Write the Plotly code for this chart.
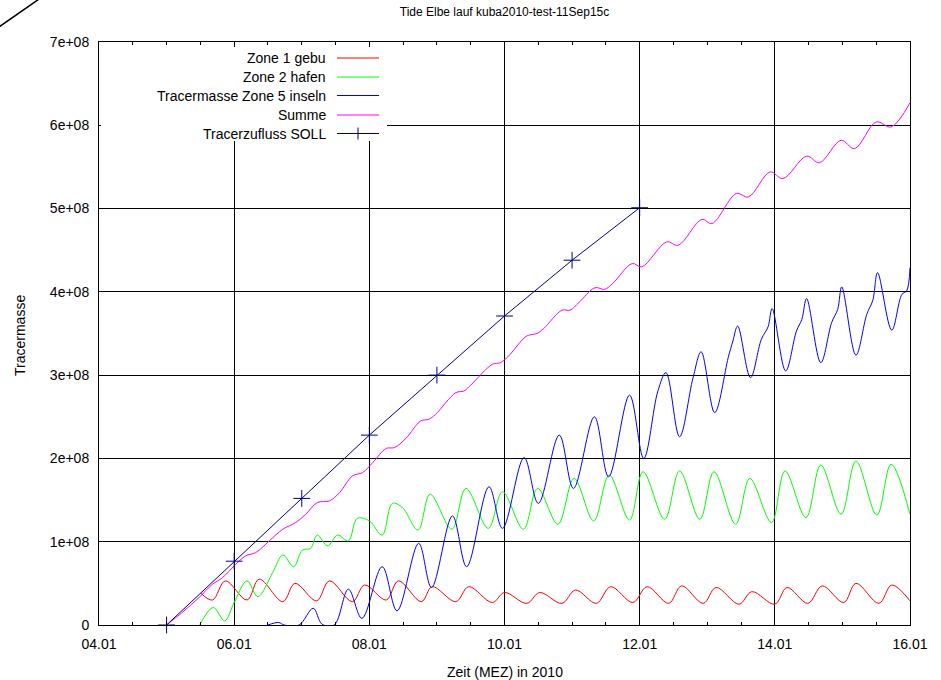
import numpy as np
import pandas as pd
import plotly.graph_objects as go

# Time in days of January 2010, tracer masses in units of 1e8
zone1_day = [5.51, 5.68, 5.87, 6.19, 6.37, 6.72, 6.90, 7.22, 7.41, 7.75, 7.93, 8.25, 8.43, 8.77,
             8.93, 9.28, 9.47, 9.82, 10.00, 10.33, 10.52, 10.85, 11.05, 11.36, 11.57, 11.90,
             12.11, 12.43, 12.62, 12.94, 13.13, 13.47, 13.66, 14.00, 14.18, 14.49, 14.70,
             15.02, 15.20, 15.54, 15.73, 16.00]
zone1_val = [0.38, 0.30, 0.53, 0.30, 0.55, 0.28, 0.50, 0.29, 0.53, 0.28, 0.48, 0.30, 0.53, 0.28,
             0.46, 0.28, 0.46, 0.27, 0.39, 0.26, 0.39, 0.26, 0.42, 0.26, 0.46, 0.27,
             0.46, 0.26, 0.47, 0.26, 0.45, 0.25, 0.40, 0.25, 0.45, 0.26, 0.47,
             0.27, 0.50, 0.26, 0.48, 0.29]

zone2_day = [5.49, 5.69, 5.86, 6.00, 6.19, 6.35, 6.57, 6.72, 6.88, 7.01, 7.13, 7.23, 7.38, 7.53,
             7.69, 7.82, 8.00, 8.19, 8.34, 8.49, 8.72, 8.90, 9.22, 9.43, 9.76, 9.97, 10.28,
             10.49, 10.79, 11.03, 11.32, 11.55, 11.85, 12.05, 12.37, 12.59, 12.89, 13.10,
             13.42, 13.63, 13.95, 14.15, 14.46, 14.68, 14.98, 15.20, 15.51, 15.72, 16.00]
zone2_val = [0.00, 0.21, 0.05, 0.27, 0.53, 0.34, 0.63, 0.84, 0.70, 0.90, 0.92, 1.08, 0.95, 1.08,
             1.01, 1.28, 1.25, 1.08, 1.46, 1.41, 1.14, 1.57, 1.15, 1.64, 1.16, 1.60, 1.15,
             1.64, 1.21, 1.76, 1.25, 1.80, 1.26, 1.84, 1.27, 1.85, 1.27, 1.84,
             1.21, 1.76, 1.23, 1.85, 1.29, 1.92, 1.33, 1.97, 1.32, 1.93, 1.33]

zone5_day = [6.50, 6.66, 6.74, 6.96, 7.17, 7.30, 7.48, 7.69, 7.89, 8.19, 8.41, 8.73, 8.92, 9.23,
             9.44, 9.77, 9.97, 10.29, 10.50, 10.81, 11.02, 11.33, 11.54, 11.85, 12.06, 12.27,
             12.39, 12.59, 12.79, 12.91, 13.11, 13.31, 13.38, 13.45, 13.64, 13.80, 13.90,
             13.96, 14.16, 14.32, 14.40, 14.47, 14.68, 14.84, 14.93, 14.99, 15.20, 15.36,
             15.45, 15.52, 15.73, 15.88, 15.95, 16.00]
zone5_val = [0.00, 0.03, 0.00, 0.00, 0.20, 0.01, 0.00, 0.43, 0.08, 0.70, 0.17, 0.98, 0.45, 1.31,
             0.70, 1.66, 1.16, 2.01, 1.46, 2.28, 1.64, 2.50, 1.78, 2.76, 2.00, 2.81,
             3.03, 2.26, 2.97, 3.28, 2.55, 3.21, 3.41, 3.59, 2.97, 3.43, 3.58,
             3.80, 3.05, 3.53, 3.67, 3.92, 3.15, 3.63, 3.79, 4.06, 3.24, 3.73,
             3.90, 4.23, 3.54, 3.97, 4.01, 4.29]

summe_day = [5.00, 5.23, 5.48, 5.68, 5.83, 6.00, 6.17, 6.32, 6.52, 6.72, 6.91, 7.06, 7.23, 7.41,
             7.56, 7.75, 7.90, 8.05, 8.25, 8.37, 8.54, 8.76, 8.88, 8.98, 9.28, 9.40, 9.50,
             9.82, 9.94, 10.05, 10.33, 10.48, 10.58, 10.85, 10.97, 11.10, 11.34, 11.48, 11.60,
             11.89, 12.03, 12.40, 12.57, 12.92, 13.07, 13.43, 13.61, 13.93, 14.12, 14.47,
             14.66, 14.98, 15.18, 15.50, 15.72, 16.00]
summe_val = [0.00, 0.15, 0.33, 0.49, 0.57, 0.71, 0.83, 0.87, 1.01, 1.15, 1.23, 1.33, 1.47, 1.49,
             1.59, 1.79, 1.83, 1.95, 2.12, 2.13, 2.24, 2.45, 2.47, 2.53, 2.79, 2.81, 2.88,
             3.13, 3.15, 3.22, 3.47, 3.50, 3.56, 3.78, 3.78, 3.87, 4.05, 4.03, 4.10,
             4.34, 4.30, 4.60, 4.56, 4.87, 4.82, 5.18, 5.14, 5.44, 5.36, 5.63,
             5.55, 5.82, 5.72, 6.04, 5.98, 6.27]

soll_day = [5, 6, 7, 8, 9, 10, 11, 12]
soll_val = [0.00, 0.766, 1.52, 2.28, 3.00, 3.71, 4.38, 5.01]

y_tick_vals = [0, 1, 2, 3, 4, 5, 6, 7]
y_tick_text = ["0", "1e+08", "2e+08", "3e+08", "4e+08", "5e+08", "6e+08", "7e+08"]

series_names = ["Zone 1 gebu", "Zone 2 hafen", "Tracermasse Zone 5 inseln", "Summe",
                "Tracerzufluss SOLL"]
series_colors = ["#ff0000", "#00ff00", "#0000ff", "#ff00ff", "#000080"]

SCALE = 1e8
BASE = pd.Timestamp("2010-01-01")


def to_time(days):
    return BASE + pd.to_timedelta(np.asarray(days, dtype=float) - 1.0, unit="D")


FONT = "Liberation Sans, Arial, Helvetica, sans-serif"

fig = go.Figure()
curves = [(zone1_day, zone1_val), (zone2_day, zone2_val), (zone5_day, zone5_val),
          (summe_day, summe_val)]
for (d, v), name, col in zip(curves, series_names[:4], series_colors[:4]):
    fig.add_trace(go.Scatter(
        x=to_time(d), y=np.asarray(v) * SCALE, mode="lines", name=name,
        line=dict(color=col, width=1, shape="spline", smoothing=1.0),
        showlegend=False,
    ))

fig.add_trace(go.Scatter(
    x=to_time(soll_day), y=np.asarray(soll_val) * SCALE, mode="lines+markers",
    name=series_names[4], line=dict(color=series_colors[4], width=1),
    marker=dict(symbol="cross-thin", size=12, line=dict(color=series_colors[4], width=1)),
    cliponaxis=False, showlegend=False,
))

# plot area in pixels: left 99, right 910, top 42, bottom 625
L, R, T, B = 99, 910, 42, 625


def px(xp):
    return (xp - L) / (R - L)


def py(yp):
    return (B - yp) / (B - T)


shapes = []
annotations = []

# key box (opaque, hides the grid beneath it)
shapes.append(dict(type="rect", xref="paper", yref="paper", x0=px(101), x1=px(387),
                   y0=py(141), y1=py(47), fillcolor="white", line=dict(width=0),
                   layer="above"))
rows = [58, 77, 95.5, 115, 133.5]
for name, col, yy in zip(series_names, series_colors, rows):
    annotations.append(dict(xref="paper", yref="paper", x=px(328), y=py(yy), text=name,
                            showarrow=False, xanchor="right", yanchor="middle",
                            font=dict(family=FONT, size=14, color="black")))
    shapes.append(dict(type="line", xref="paper", yref="paper", x0=px(337), x1=px(379),
                       y0=py(yy), y1=py(yy), line=dict(color=col, width=1), layer="above"))
# cross on the SOLL key sample
yy = rows[-1]
shapes.append(dict(type="line", xref="paper", yref="paper", x0=px(358), x1=px(358),
                   y0=py(yy - 6), y1=py(yy + 6), line=dict(color=series_colors[4], width=1),
                   layer="above"))

# stroke in the upper left corner
shapes.append(dict(type="line", xref="paper", yref="paper", x0=px(-4), y0=py(29),
                   x1=px(42), y1=py(-3), line=dict(color="black", width=1.5), layer="above"))

# axis titles
annotations.append(dict(xref="paper", yref="paper", x=0.5, y=py(672), text="Zeit (MEZ) in 2010",
                        showarrow=False, xanchor="center", yanchor="middle",
                        font=dict(family=FONT, size=14, color="black")))
annotations.append(dict(xref="paper", yref="paper", x=px(20), y=py(336), text="Tracermasse",
                        showarrow=False, xanchor="center", yanchor="middle", textangle=-90,
                        font=dict(family=FONT, size=14, color="black")))

fig.update_layout(
    width=941, height=680, autosize=False,
    margin=dict(l=L, r=941 - R, t=T, b=680 - B),
    paper_bgcolor="white", plot_bgcolor="white",
    title=dict(text="Tide Elbe lauf kuba2010-test-11Sep15c", x=0.5, xref="paper",
               y=1 - 12 / 680, yref="container", yanchor="middle", xanchor="center",
               font=dict(family=FONT, size=12, color="black")),
    font=dict(family=FONT, size=14, color="black"),
    shapes=shapes, annotations=annotations, showlegend=False,
)

fig.update_xaxes(
    range=[to_time([4])[0], to_time([16])[0]],
    type="date", tickformat="%d.%m", tick0=to_time([4])[0], dtick=2 * 86400000,
    ticks="inside", ticklen=6, tickcolor="black", tickwidth=1,
    showline=True, linecolor="black", linewidth=1, mirror="ticks",
    showgrid=True, gridcolor="black", gridwidth=1, zeroline=False,
    tickfont=dict(family=FONT, size=14, color="black"), ticklabelstandoff=6,
    minor=dict(dtick=12 * 3600000, tick0=to_time([4])[0], ticks="inside", ticklen=3,
               tickcolor="black", showgrid=False),
)
fig.update_yaxes(
    range=[0, 7 * SCALE], tickmode="array",
    tickvals=[v * SCALE for v in y_tick_vals], ticktext=y_tick_text,
    ticks="inside", ticklen=6, tickcolor="black", tickwidth=1,
    showline=True, linecolor="black", linewidth=1, mirror="ticks",
    showgrid=True, gridcolor="black", gridwidth=1, zeroline=False,
    tickfont=dict(family=FONT, size=14, color="black"), ticklabelstandoff=6,
)

fig.write_html("out.html")
